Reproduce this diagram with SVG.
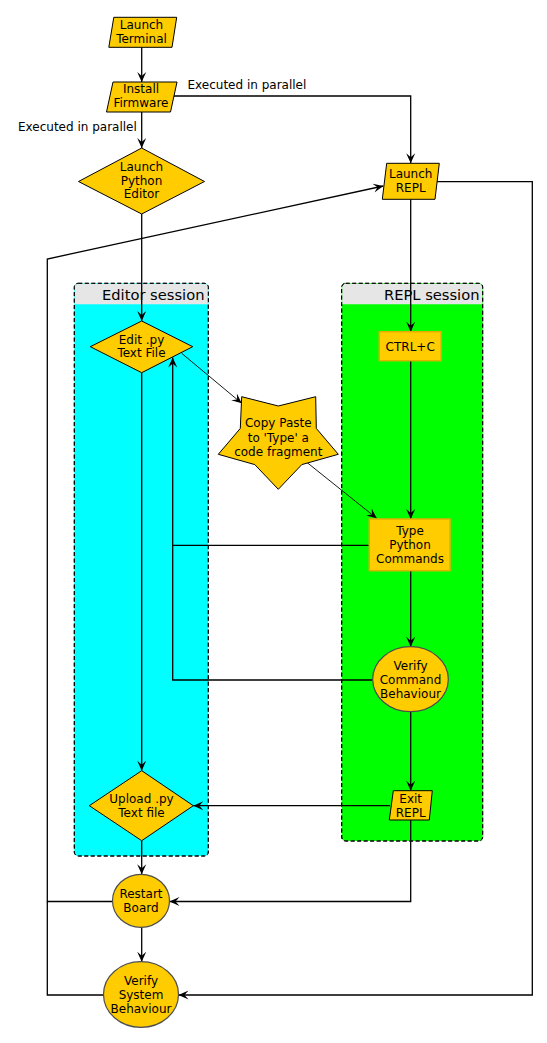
<svg xmlns="http://www.w3.org/2000/svg" width="547" height="1043" viewBox="0 0 547 1043">
<defs>
<marker id="arr" markerUnits="userSpaceOnUse" markerWidth="12" markerHeight="12" viewBox="-11 -6 12 12" refX="0" refY="0" orient="auto">
<path d="M0,0 L-10,-4.5 L-6,0 L-10,4.5 z" fill="#000"/>
</marker>
</defs>
<style>
text{font-family:"DejaVu Sans","Liberation Sans",sans-serif;font-size:12px;fill:#000;text-anchor:middle}
.lbl{text-anchor:start}
.hdr{font-size:14.7px;text-anchor:end}
.node{fill:#ffcc00;stroke:#000;stroke-width:1}
.ell{fill:#ffcc00;stroke:#4d4d4d;stroke-width:1.2}
.box{fill:#ffcc00;stroke:#e0b000;stroke-width:1.5}
.c{fill:none;stroke:#000;stroke-width:1.3}
.t{fill:none;stroke:#000;stroke-width:0.9}
.lane{stroke:#000;stroke-width:1;stroke-dasharray:4,2.5}
</style>
<rect width="547" height="1043" fill="#fff"/>
<g id="lane-editor">
<rect class="lane" x="74.3" y="283.3" width="134" height="572.7" rx="4" fill="#00ffff"/>
<path d="M78.3,283.8 H204.3 Q207.8,283.8 207.8,287.3 V304.3 H74.8 V287.3 Q74.8,283.8 78.3,283.8 z" fill="#e6e6e6"/>
<rect x="74.3" y="283.3" width="134" height="572.7" rx="4" fill="none" class="lane"/>
<text class="hdr" x="204.5" y="300">Editor session</text>
</g>
<g id="lane-repl">
<rect class="lane" x="341.7" y="283.3" width="141" height="557.7" rx="4" fill="#00ff00"/>
<path d="M345.7,283.8 H478.7 Q482.2,283.8 482.2,287.3 V304.3 H342.2 V287.3 Q342.2,283.8 345.7,283.8 z" fill="#e6e6e6"/>
<rect x="341.7" y="283.3" width="141" height="557.7" rx="4" fill="none" class="lane"/>
<text class="hdr" x="479.5" y="299.5">REPL session</text>
</g>
<g id="connectors">
<path class="c" d="M141.7,47.3 V82" marker-end="url(#arr)"/>
<path class="c" d="M141.7,112 V148" marker-end="url(#arr)"/>
<path class="c" d="M172.5,96 H410.7 V163.3" marker-end="url(#arr)"/>
<path class="c" d="M141.7,214 V321" marker-end="url(#arr)"/>
<path class="c" d="M410.7,199.3 V331.7" marker-end="url(#arr)"/>
<path class="t" d="M181.7,353.3 L241.7,403.3" marker-end="url(#arr)"/>
<path class="t" d="M306,461.7 L376.7,518.3" marker-end="url(#arr)"/>
<path class="c" d="M410.7,360.7 V519" marker-end="url(#arr)"/>
<path class="c" d="M369.3,545.3 H172.7 V357.5" marker-end="url(#arr)"/>
<path class="c" d="M372.7,680 H172.7 V545.3"/>
<path class="c" d="M410.7,570.7 V646.7" marker-end="url(#arr)"/>
<path class="c" d="M410.7,711.7 V790.7" marker-end="url(#arr)"/>
<path class="c" d="M390,805.7 H193.3" marker-end="url(#arr)"/>
<path class="c" d="M141.7,372.7 V770.7" marker-end="url(#arr)"/>
<path class="c" d="M141.7,840.7 V874.3" marker-end="url(#arr)"/>
<path class="c" d="M410.7,820 V901.5 H169.5" marker-end="url(#arr)"/>
<path class="c" d="M141.7,927.3 V961.7" marker-end="url(#arr)"/>
<path class="c" d="M437,181.7 H532.3 V995 H178.5" marker-end="url(#arr)"/>
<path class="c" d="M112.3,901.5 H47.3 V259 L383.3,186" marker-end="url(#arr)"/>
<path class="c" d="M103.3,995 H47.3 V901.5"/>
<text class="lbl" x="187.5" y="88.5">Executed in parallel</text>
<text class="lbl" x="18" y="130.5">Executed in parallel</text>
</g>
<g id="launch-terminal">
<polygon class="node" points="113.8,17.3 176.7,17.3 172,47.3 108.8,47.3"/>
<text x="141.5" y="29.3">Launch</text>
<text x="141.5" y="43.3">Terminal</text>
</g>
<g id="install-firmware">
<polygon class="node" points="113,82 177,82 170.5,112 106.5,112"/>
<text x="141" y="93">Install</text>
<text x="141" y="106.7">Firmware</text>
</g>
<g id="launch-python-editor">
<polygon class="node" points="141.7,148 204.5,181.5 141.7,214 78.5,181.5"/>
<text x="141.5" y="171">Launch</text>
<text x="141.5" y="184.7">Python</text>
<text x="141.5" y="198.3">Editor</text>
</g>
<g id="launch-repl">
<polygon class="node" points="386.7,163.3 439.3,163.3 435,199.3 382.3,199.3"/>
<text x="410.7" y="178.3">Launch</text>
<text x="410.7" y="191.7">REPL</text>
</g>
<g id="edit-py">
<polygon class="node" points="141.7,321 192.7,346.7 141.7,372.7 90.3,346.7"/>
<text x="141.5" y="344">Edit .py</text>
<text x="141.5" y="357.3">Text File</text>
</g>
<g id="ctrl-c">
<rect class="box" x="379.3" y="331.7" width="61.7" height="29"/>
<text x="410.2" y="350.5">CTRL+C</text>
</g>
<g id="copy-paste">
<polygon class="node" points="278.3,489.3 254.8,464.6 218.3,454.3 240.3,428.4 241.7,396.7 278.3,406 315.7,396.7 316.3,428.4 338.3,454.3 301.8,464.6"/>
<text x="278.3" y="427.3">Copy Paste</text>
<text x="278.3" y="441.7">to 'Type' a</text>
<text x="278.3" y="455.7">code fragment</text>
</g>
<g id="type-python">
<rect class="box" x="369.3" y="519" width="80.7" height="51.7"/>
<text x="410" y="535">Type</text>
<text x="410" y="549">Python</text>
<text x="410" y="562.7">Commands</text>
</g>
<g id="verify-command">
<ellipse class="ell" cx="410.5" cy="679.2" rx="37.8" ry="32.5"/>
<text x="410.5" y="670">Verify</text>
<text x="410.5" y="684">Command</text>
<text x="410.5" y="697.7">Behaviour</text>
</g>
<g id="exit-repl">
<polygon class="node" points="393.3,790.7 432.3,790.7 429.3,820 389.3,820"/>
<text x="410.7" y="803.3">Exit</text>
<text x="410.7" y="816.7">REPL</text>
</g>
<g id="upload-py">
<polygon class="node" points="141.7,770.7 193.3,805.7 141.7,840.7 89.3,805.7"/>
<text x="141.5" y="802.7">Upload .py</text>
<text x="141.5" y="816.7">Text file</text>
</g>
<g id="restart-board">
<ellipse class="ell" cx="141" cy="900.8" rx="28.5" ry="26.5"/>
<text x="141" y="898.3">Restart</text>
<text x="141" y="911.7">Board</text>
</g>
<g id="verify-system">
<ellipse class="ell" cx="141" cy="994.5" rx="37.5" ry="32.8"/>
<text x="141" y="985">Verify</text>
<text x="141" y="999">System</text>
<text x="141" y="1012.7">Behaviour</text>
</g>
</svg>
